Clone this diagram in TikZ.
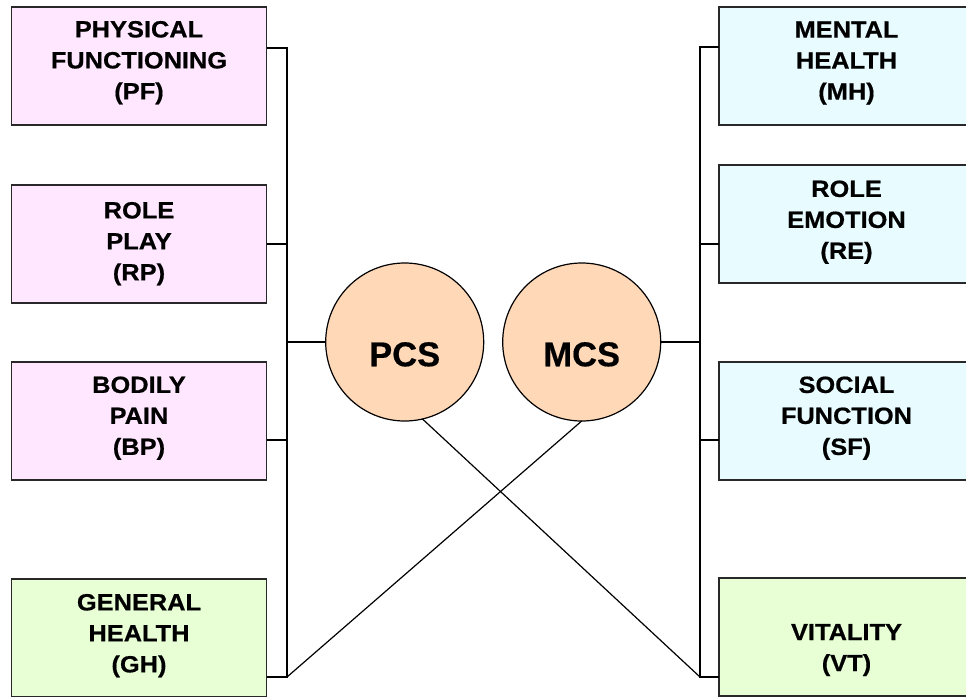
\documentclass[tikz,border=0pt]{standalone}
\usepackage{fontspec}
\newfontfamily\boxfont[FakeStretch=1.08, BoldFeatures={FakeBold=0.6}]{Liberation Sans}
\newfontfamily\circfont[BoldFeatures={FakeBold=0.4}]{Liberation Sans}
\definecolor{pinkfill}{RGB}{255,232,255}
\definecolor{cyanfill}{RGB}{232,252,255}
\definecolor{greenfill}{RGB}{232,255,214}
\definecolor{peach}{RGB}{255,216,184}
\definecolor{boxline}{RGB}{40,40,40}
\newcommand\cellText[2]{\parbox[c][118pt][t]{255pt}{\centering\boxfont\bfseries\fontsize{23.5}{31}\selectfont\vspace*{#1}#2}}
\begin{document}
\begin{tikzpicture}[x=1pt,y=-1pt,
  box/.style={draw=boxline, line width=1.8pt, minimum width=255pt, minimum height=118pt, inner sep=0pt, outer sep=0pt},
  pinkbox/.style={box, fill=pinkfill},
  cyanbox/.style={box, fill=cyanfill},
  greenbox/.style={box, fill=greenfill},
  score/.style={circle, draw=black, line width=1.2pt, fill=peach, minimum size=158pt, inner sep=0pt, outer sep=0pt,
    font=\circfont\bfseries\fontsize{34.5}{40}\selectfont, text height=48.5pt, text depth=0pt},
  wire/.style={draw=black, line width=1.2pt}
]
\useasboundingbox (0,0) rectangle (966,696);

% left boxes
\node[pinkbox]  (PF) at (139,66)  {\cellText{14pt}{PHYSICAL\\FUNCTIONING\\(PF)}};
\node[pinkbox]  (RP) at (139,244) {\cellText{17pt}{ROLE\\PLAY\\(RP)}};
\node[pinkbox]  (BP) at (139,421) {\cellText{14.5pt}{BODILY\\PAIN\\(BP)}};
\node[greenbox] (GH) at (139,638) {\cellText{15pt}{GENERAL\\HEALTH\\(GH)}};

% right boxes
\node[cyanbox]  (MH) at (846.5,66)  {\cellText{14.5pt}{MENTAL\\HEALTH\\(MH)}};
\node[cyanbox]  (RE) at (846.5,224) {\cellText{15.5pt}{ROLE\\EMOTION\\(RE)}};
\node[cyanbox]  (SF) at (846.5,421) {\cellText{14.5pt}{SOCIAL\\FUNCTION\\(SF)}};
\node[greenbox] (VT) at (846.5,637) {\cellText{46pt}{VITALITY\\(VT)}};

% circles
\node[score] (PCS) at (404.7,342) {PCS};
\node[score] (MCS) at (581.7,342) {MCS};

% bus coordinates
\coordinate (LTop) at (287,48);
\coordinate (LBP)  at (287,440);
\coordinate (LBot) at (287,677);
\coordinate (RTop) at (700,47);
\coordinate (RRE)  at (700,244);
\coordinate (RSF)  at (700,440);
\coordinate (RBot) at (700,677);

% left bus
\draw[wire] (PF.east |- LTop) -- (LTop) -- (LBot) -- (GH.east |- LBot);
\draw[wire] (RP.east) -- (RP.east -| LTop);
\draw[wire] (BP.east |- LBP) -- (LBP);
\draw[wire] (PCS.west) -- (PCS.west -| LTop);

% right bus
\draw[wire] (MH.west |- RTop) -- (RTop) -- (RBot) -- (VT.west |- RBot);
\draw[wire] (RE.west |- RRE) -- (RRE);
\draw[wire] (SF.west |- RSF) -- (RSF);
\draw[wire] (MCS.east) -- (MCS.east -| RTop);

% crossing lines
\draw[wire] (PCS.-77) -- (RBot);
\draw[wire] (MCS.south) -- (LBot);
\end{tikzpicture}
\end{document}
